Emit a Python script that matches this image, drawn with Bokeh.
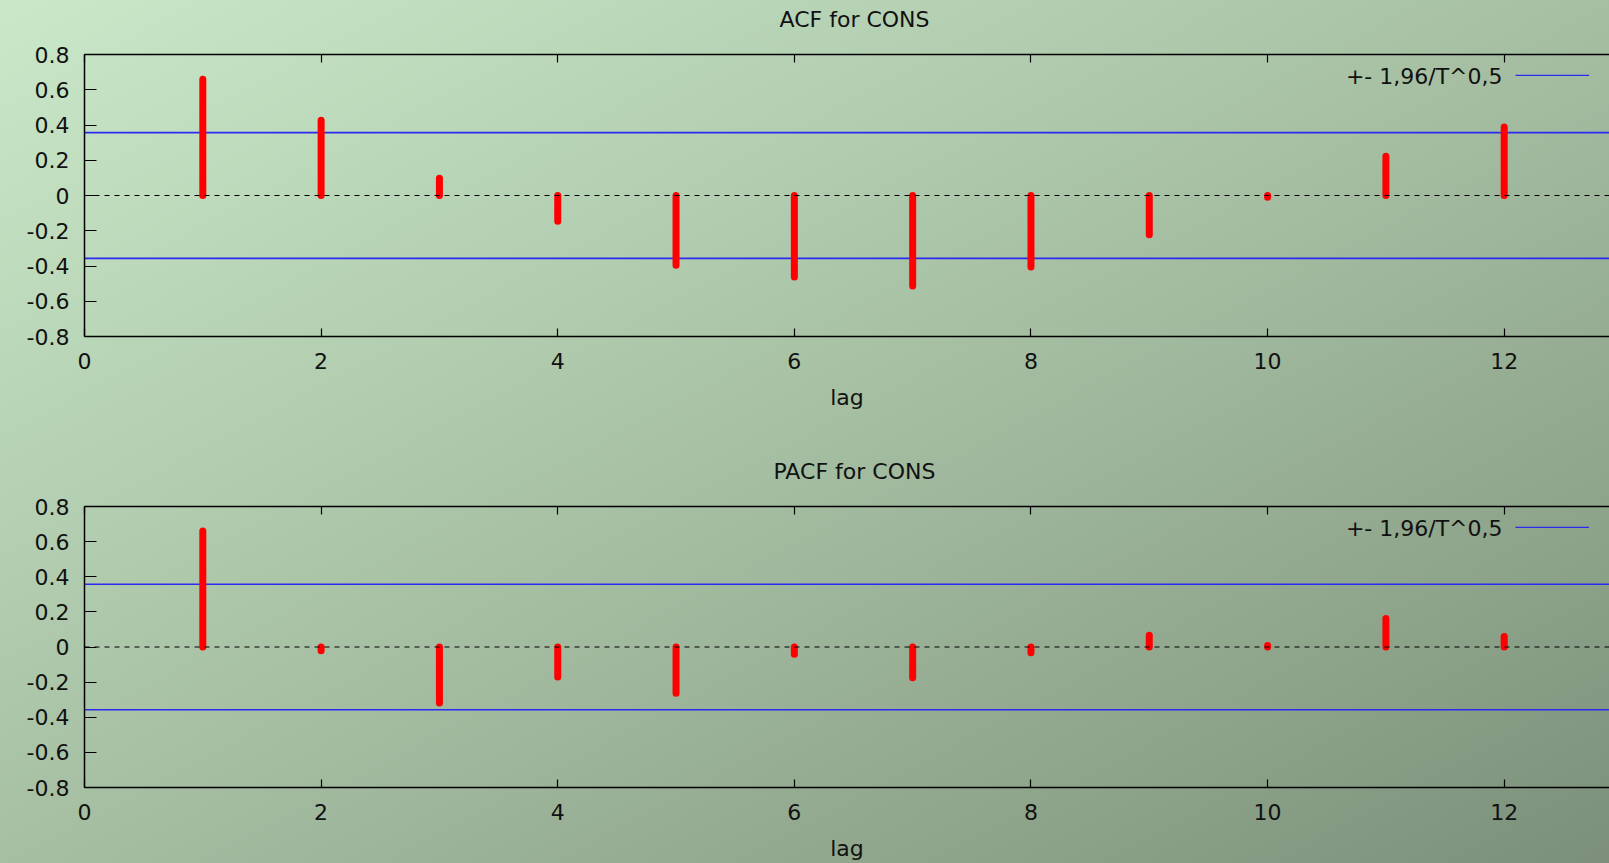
from bokeh.plotting import figure
from bokeh.layouts import column
from bokeh.models import (Range1d, FixedTicker, LinearAxis, Span, Legend, LegendItem,
                          Label, ColumnDataSource, GlobalInlineStyleSheet, CustomLabelingPolicy)
from bokeh.embed import file_html
from bokeh.resources import INLINE

# ---- data ----
lags = [1, 2, 3, 4, 5, 6, 7, 8, 9, 10, 11, 12]
acf_values = [0.66, 0.427, 0.098, -0.146, -0.396, -0.462, -0.513, -0.406, -0.222, -0.01, 0.222, 0.389]
pacf_values = [0.66, -0.022, -0.319, -0.171, -0.264, -0.041, -0.175, -0.033, 0.067, 0.008, 0.162, 0.06]
conf_band = 0.357
x_ticks = [0, 2, 4, 6, 8, 10, 12]
y_ticks = [-0.8, -0.6, -0.4, -0.2, 0.0, 0.2, 0.4, 0.6, 0.8]
y_tick_labels = ["-0.8", "-0.6", "-0.4", "-0.2", "0", "0.2", "0.4", "0.6", "0.8"]
titles = ["ACF for CONS", "PACF for CONS"]
legend_label = "+- 1,96/T^0,5"
x_label = "lag"

FONT = "DejaVu Sans"
FS = "22px"
TXT = "#111111"
BLUE = "#2a2af0"

HIDE_ALL = CustomLabelingPolicy(code="""
try { for (let i = 0; i < indices.size; i++) { indices.unset(i) } } catch (e) {}
return indices
""")


def make_panel(values, title, height, b_top, b_bottom, lab_standoff, title_offset):
    p = figure(width=1609, height=height, x_range=Range1d(0, 12.89), y_range=Range1d(-0.8, 0.8),
               output_backend="svg", toolbar_location=None,
               min_border_left=84, min_border_right=0, min_border_top=b_top, min_border_bottom=b_bottom,
               background_fill_color=None, border_fill_color=None, outline_line_color=None)
    p.grid.visible = False

    p.title.text = title
    p.title.text_font = FONT
    p.title.text_font_size = FS
    p.title.text_font_style = "normal"
    p.title.text_color = TXT
    p.title.align = "left"
    p.title.offset = title_offset
    p.title.standoff = 4

    xa = p.xaxis[0]
    xa.ticker = FixedTicker(ticks=x_ticks)
    xa.axis_label = x_label
    xa.axis_label_text_font = FONT
    xa.axis_label_text_font_size = FS
    xa.axis_label_text_font_style = "normal"
    xa.axis_label_text_color = TXT
    xa.axis_label_standoff = lab_standoff
    xa.major_label_text_font = FONT
    xa.major_label_text_font_size = FS
    xa.major_label_text_color = TXT
    xa.major_label_standoff = 16
    xa.major_tick_in = 8
    xa.major_tick_out = 0
    xa.minor_tick_line_color = None
    xa.axis_line_width = 1.5
    xa.major_tick_line_width = 1.2

    ya = p.yaxis[0]
    ya.ticker = FixedTicker(ticks=y_ticks)
    ya.major_label_overrides = {t: s for t, s in zip(y_ticks, y_tick_labels)}
    ya.major_label_text_font = FONT
    ya.major_label_text_font_size = FS
    ya.major_label_text_color = TXT
    ya.major_label_standoff = 15
    ya.major_tick_in = 12
    ya.major_tick_out = 0
    ya.minor_tick_line_color = None
    ya.axis_line_width = 1.5
    ya.major_tick_line_width = 1.2

    top = LinearAxis(ticker=FixedTicker(ticks=x_ticks), major_label_text_font_size="1px",
                     major_label_policy=HIDE_ALL,
                     major_label_standoff=17, major_tick_in=8, major_tick_out=0,
                     minor_tick_line_color=None, axis_line_width=1.5, major_tick_line_width=1.2)
    p.add_layout(top, "above")

    p.add_layout(Span(location=0, dimension="width", line_color="black", line_width=1, line_dash="5 5"))

    x0 = p.x_range.start
    band = p.ray(x=[x0, x0], y=[conf_band, -conf_band], length=0, angle=0,
                 line_color=BLUE, line_width=1.6)

    src = ColumnDataSource(dict(x=lags, y0=[0] * len(lags), y1=values))
    p.segment(x0="x", y0="y0", x1="x", y1="y1", source=src, line_color="#ff0000",
              line_width=7, line_cap="round")

    leg = Legend(items=[LegendItem(label=" ", renderers=[band], index=0)], location="top_right",
                 glyph_width=74, glyph_height=2, label_width=0, label_height=0, label_standoff=0,
                 label_text_font_size="1px", label_text_color=None, padding=0, margin=20,
                 background_fill_alpha=0, border_line_color=None)
    p.add_layout(leg)

    p.add_layout(Label(x=p.x_range.end, y=0.8, x_offset=-107, y_offset=-22, text=legend_label,
                       text_align="right", text_baseline="middle", text_font=FONT,
                       text_font_size=FS, text_color=TXT))
    return p


p1 = make_panel(acf_values, titles[0], 448, 54, 112, 13, 695)
p2 = make_panel(pacf_values, titles[1], 415, 58, 76, 13, 689)

css = GlobalInlineStyleSheet(css="html{min-height:100%;background:linear-gradient(to bottom right,#cae9c9 0%,#a6bfa3 50%,#7c9079 100%);}")
layout = column(p1, p2, spacing=0, stylesheets=[css])

open("out.html", "w").write(file_html(layout, INLINE))
